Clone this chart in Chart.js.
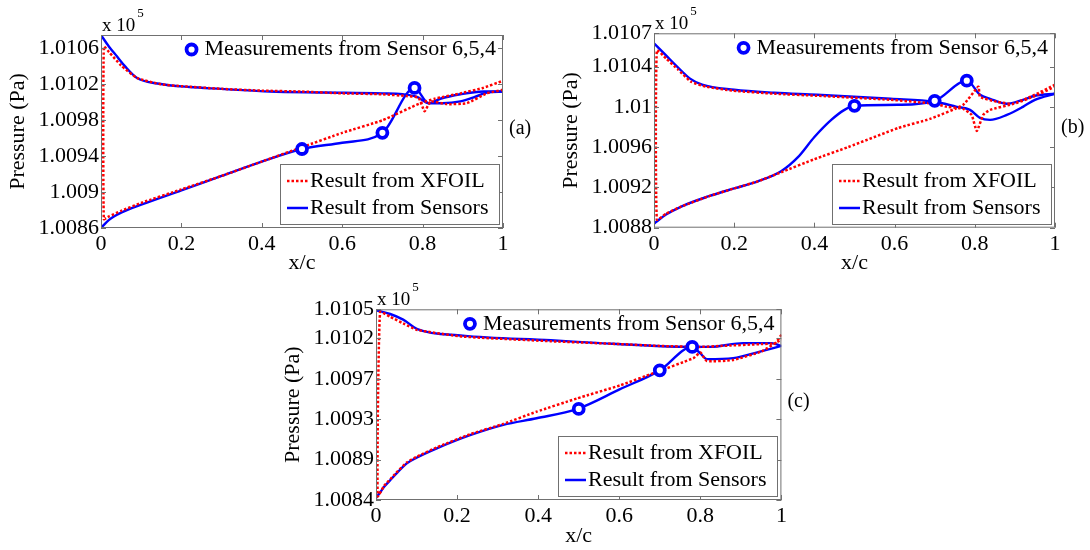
<!DOCTYPE html>
<html>
<head>
<meta charset="utf-8">
<script src="https://cdn.jsdelivr.net/npm/chart.js@4.4.1/dist/chart.umd.min.js"></script>
<style>
body{margin:0;background:#fff;width:1090px;height:550px;overflow:hidden;position:relative}
canvas{position:absolute}
</style>
</head>
<body>
<canvas id="chartA" style="left:0;top:0" width="545" height="285"></canvas>
<canvas id="chartB" style="left:545px;top:0" width="545" height="285"></canvas>
<canvas id="chartC" style="left:270px;top:270px" width="550" height="285"></canvas>
<script>
// x/c of sensors 6,5,4
const sensorX = [0.5, 0.7, 0.78];

// ---- panel (a) ----  values in x 10^5 Pa
const yTicksA = [1.0086, 1.009, 1.0094, 1.0098, 1.0102, 1.0106];
const measA = [1.00948, 1.00966, 1.01016];
const xfoilUpperA = [[0.007,1.01062],[0.02,1.01056],[0.05,1.01041],[0.09,1.01027],[0.15,1.0102],[0.2,1.01018],[0.3,1.01015],[0.4,1.01013],[0.5,1.01012],[0.6,1.0101],[0.7,1.01009],[0.76,1.01007],[0.79,1.01005],[0.805,1.0099],[0.82,1.01001],[0.86,1.00998],[0.91,1.00999],[0.96,1.0101],[1,1.01014]];
const xfoilLowerA = [[0.007,1.0087],[0.02,1.00873],[0.05,1.00879],[0.1,1.00888],[0.2,1.00903],[0.3,1.00918],[0.4,1.00934],[0.5,1.0095],[0.6,1.00966],[0.7,1.0098],[0.794,1.00999],[0.83,1.01004],[0.894,1.0101],[0.95,1.01016],[1,1.01024]];
const sensorUpperA = [[0,1.01075],[0.02,1.01062],[0.04,1.01051],[0.06,1.0104],[0.09,1.01027],[0.14,1.01021],[0.22,1.01017],[0.3,1.01015],[0.42,1.01012],[0.55,1.01011],[0.7,1.0101],[0.75,1.01009],[0.786,1.01006],[0.815,1.00999],[0.844,1.01004],[0.894,1.01009],[0.952,1.01012],[1,1.01012]];
const sensorLowerA = [[0,1.0086],[0.02,1.00869],[0.05,1.00877],[0.1,1.00886],[0.2,1.00902],[0.3,1.00918],[0.4,1.00934],[0.5,1.00948],[0.6,1.00955],[0.7,1.00966],[0.78,1.01016],[0.815,1.00999],[0.85,1.00999],[0.894,1.01001],[0.93,1.01006],[0.96,1.01011],[1,1.01012]];

// ---- panel (b) ----
const yTicksB = [1.0088, 1.0092, 1.0096, 1.01, 1.0104, 1.01073];
const measB = [1.01001, 1.01006, 1.01026];
const xfoilUpperB = [[0.007,1.01056],[0.03,1.01048],[0.06,1.01037],[0.092,1.01025],[0.13,1.0102],[0.197,1.01016],[0.3,1.01013],[0.407,1.01011],[0.59,1.01007],[0.7,1.01003],[0.73,1.0100],[0.771,1.00998],[0.792,1.00992],[0.805,1.00976],[0.821,1.00992],[0.838,1.00997],[0.896,1.01003],[0.95,1.01012],[1,1.01022]];
const xfoilLowerB = [[0.007,1.00888],[0.03,1.00894],[0.068,1.00901],[0.135,1.00911],[0.2,1.00919],[0.259,1.00926],[0.317,1.00935],[0.4,1.00948],[0.484,1.0096],[0.609,1.00979],[0.688,1.00988],[0.771,1.01002],[0.809,1.0102],[0.813,1.0101],[0.855,1.01005],[0.896,1.01003],[0.945,1.0101],[1,1.0102]];
const sensorUpperB = [[0,1.01063],[0.03,1.01051],[0.06,1.01039],[0.09,1.01028],[0.12,1.01022],[0.2,1.01017],[0.3,1.01014],[0.407,1.01012],[0.59,1.01008],[0.7,1.01005],[0.755,1.0100],[0.788,1.00997],[0.813,1.00989],[0.838,1.00987],[0.88,1.00992],[0.92,1.0100],[0.95,1.01007],[1,1.01013]];
const sensorLowerB = [[0,1.00884],[0.03,1.00893],[0.068,1.00901],[0.135,1.00911],[0.2,1.00919],[0.259,1.00926],[0.317,1.00936],[0.359,1.0095],[0.4,1.0097],[0.442,1.00987],[0.475,1.00997],[0.5,1.01001],[0.608,1.01002],[0.7,1.01006],[0.78,1.01026],[0.813,1.01012],[0.838,1.01008],[0.88,1.01003],[0.92,1.01007],[0.95,1.01011],[1,1.01013]];

// ---- panel (c) ----
const yTicksC = [1.00844, 1.00887, 1.0093, 1.00973, 1.01016, 1.01047];
const measC = [1.00941, 1.00982, 1.01007];
const xfoilUpperC = [[0.01,1.01044],[0.035,1.01039],[0.067,1.01032],[0.102,1.01025],[0.214,1.01018],[0.431,1.01013],[0.6,1.0101],[0.7,1.01008],[0.8,1.01007],[0.85,1.01008],[0.95,1.0101],[0.985,1.01011],[1,1.0102]];
const xfoilLowerC = [[0.004,1.00848],[0.02,1.00859],[0.035,1.00866],[0.05,1.00873],[0.076,1.00884],[0.1,1.0089],[0.15,1.009],[0.232,1.00914],[0.314,1.00925],[0.396,1.00938],[0.495,1.00952],[0.602,1.00966],[0.684,1.00979],[0.783,1.00995],[0.8,1.01001],[0.816,1.00992],[0.88,1.00993],[0.95,1.01002],[1,1.01015]];
const sensorUpperC = [[0,1.01046],[0.035,1.01042],[0.067,1.01036],[0.102,1.01026],[0.214,1.01019],[0.431,1.01014],[0.553,1.01011],[0.69,1.01008],[0.78,1.01007],[0.824,1.01007],[0.906,1.01011],[0.976,1.01011],[1,1.01008]];
const sensorLowerC = [[0,1.00846],[0.01,1.00852],[0.02,1.00858],[0.035,1.00865],[0.05,1.00872],[0.076,1.00883],[0.1,1.00889],[0.15,1.00899],[0.232,1.00913],[0.314,1.00924],[0.396,1.00931],[0.497,1.00941],[0.602,1.00962],[0.7,1.00982],[0.78,1.01007],[0.8,1.01],[0.816,1.00994],[0.881,1.00995],[0.947,1.01002],[1,1.01008]];

const SERIF = "'Liberation Serif', 'Times New Roman', serif";
const RED = '#ff0000';
const BLUE = '#0000ff';
const BOX = '#707070';

Chart.defaults.font.family = SERIF;
Chart.defaults.color = '#000';

function fmt(v, d){
    return String(Number(v.toFixed(d)));
}

function pts(arr){
    return arr.map(p => ({x: p[0], y: p[1]}));
}

function ring(ctx, x, y){
    ctx.beginPath();
    ctx.arc(x, y, 5, 0, Math.PI * 2);
    ctx.fillStyle = '#fff';
    ctx.fill();
    ctx.lineWidth = 3.8;
    ctx.strokeStyle = BLUE;
    ctx.stroke();
}

// axes box, inward ticks, exponent, panel label and the two legends
const decorPlugin = {
    id: 'decor',
    afterDatasetsDraw(chart, args, opts){
        const ctx = chart.ctx;
        const a = chart.chartArea;
        const sx = chart.scales.x, sy = chart.scales.y;
        ctx.save();

        ctx.strokeStyle = BOX;
        ctx.lineWidth = 1;
        ctx.strokeRect(a.left + 0.5, a.top + 0.5, a.right - a.left - 1, a.bottom - a.top - 1);
        ctx.beginPath();
        sx.ticks.forEach(t => {
            let x = Math.round(sx.getPixelForValue(t.value)) + 0.5;
            ctx.moveTo(x, a.bottom); ctx.lineTo(x, a.bottom - 5);
            ctx.moveTo(x, a.top); ctx.lineTo(x, a.top + 5);
        });
        sy.ticks.forEach(t => {
            let y = Math.round(sy.getPixelForValue(t.value)) + 0.5;
            ctx.moveTo(a.left, y); ctx.lineTo(a.left + 5, y);
            ctx.moveTo(a.right, y); ctx.lineTo(a.right - 5, y);
        });
        ctx.stroke();

        // x 10^5
        ctx.fillStyle = '#000';
        ctx.textBaseline = 'alphabetic';
        ctx.textAlign = 'left';
        ctx.font = '19px ' + SERIF;
        ctx.fillText('x 10', a.left + 1, a.top - 4);
        let w = ctx.measureText('x 10').width;
        ctx.font = '13px ' + SERIF;
        ctx.fillText('5', a.left + 3 + w, a.top - 18);

        // panel label
        ctx.font = '20px ' + SERIF;
        ctx.textBaseline = 'middle';
        ctx.fillText(opts.label, a.right + 6, (a.top + a.bottom) / 2 - 3);

        // sensor legend (top right)
        ctx.font = '22px ' + SERIF;
        ctx.textAlign = 'right';
        let mText = 'Measurements from Sensor 6,5,4';
        let my = a.top + 14.5;
        ctx.fillText(mText, a.right - 7, my);
        let mw = ctx.measureText(mText).width;
        ring(ctx, a.right - 7 - mw - 13, my);

        // line legend (bottom right)
        let bw = 219, bh = 60;
        let bx = Math.round(a.right - 4 - bw), by = Math.round(a.bottom - 4 - bh);
        ctx.fillStyle = '#fff';
        ctx.fillRect(bx, by, bw, bh);
        ctx.lineWidth = 1;
        ctx.strokeStyle = BOX;
        ctx.strokeRect(bx + 0.5, by + 0.5, bw, bh);

        ctx.lineWidth = 2.5;
        ctx.strokeStyle = RED;
        ctx.setLineDash([2.5, 2]);
        ctx.beginPath();
        ctx.moveTo(bx + 7, by + 17); ctx.lineTo(bx + 28, by + 17);
        ctx.stroke();
        ctx.setLineDash([]);
        ctx.strokeStyle = BLUE;
        ctx.beginPath();
        ctx.moveTo(bx + 7, by + 44); ctx.lineTo(bx + 28, by + 44);
        ctx.stroke();

        ctx.fillStyle = '#000';
        ctx.textAlign = 'left';
        ctx.font = '22px ' + SERIF;
        ctx.fillText('Result from XFOIL', bx + 30, by + 17);
        ctx.fillText('Result from Sensors', bx + 30, by + 44);

        ctx.restore();
    }
};

function makeChart(id, p){
    return new Chart(document.getElementById(id), {
        type: 'scatter',
        data: {
            datasets: [
                {
                    data: pts(p.xfoilUpper.slice().reverse().concat(p.xfoilLower)),
                    showLine: true, borderColor: RED, borderWidth: 2.5,
                    borderDash: [2.5, 2], pointRadius: 0, tension: 0.15, order: 1
                },
                {
                    data: pts(p.sensorUpper),
                    showLine: true, borderColor: BLUE, borderWidth: 2.4, pointRadius: 0,
                    cubicInterpolationMode: 'monotone', order: 2
                },
                {
                    data: pts(p.sensorLower),
                    showLine: true, borderColor: BLUE, borderWidth: 2.4, pointRadius: 0,
                    cubicInterpolationMode: 'monotone', order: 2
                },
                {
                    data: sensorX.map((x, i) => ({x: x, y: p.meas[i]})),
                    showLine: false, pointRadius: 5, borderWidth: 3.8,
                    borderColor: BLUE, backgroundColor: '#fff', order: 0
                }
            ]
        },
        options: {
            responsive: false,
            animation: false,
            layout: {padding: {left: 0, right: p.padR, top: p.padT, bottom: 0}},
            scales: {
                x: {
                    type: 'linear', min: 0, max: 1,
                    afterFit: s => { s.height = p.xH; },
                    grid: {display: false, drawTicks: false},
                    border: {display: false},
                    ticks: {stepSize: 0.2, padding: 3, maxRotation: 0, font: {size: 22}, callback: v => fmt(v, 1)},
                    title: {display: true, text: 'x/c', font: {size: 22}, padding: {top: 0, bottom: p.xTitlePad}}
                },
                y: {
                    type: 'linear', min: p.yTicks[0], max: p.yMax,
                    afterFit: s => { s.width = p.yW; },
                    afterBuildTicks: s => { s.ticks = p.yTicks.map(v => ({value: v})); },
                    grid: {display: false, drawTicks: false},
                    border: {display: false},
                    ticks: {padding: 2, autoSkip: false, font: {size: 22}, callback: v => fmt(v, 4)},
                    title: {display: true, text: 'Pressure (Pa)', font: {size: 22}, padding: {top: p.yTitlePad, bottom: 0}}
                }
            },
            plugins: {
                legend: {display: false},
                tooltip: {enabled: false},
                decor: {label: p.label}
            }
        },
        plugins: [decorPlugin]
    });
}

makeChart('chartA', {
    label: '(a)', yTicks: yTicksA, yMax: 1.01075, meas: measA,
    xfoilUpper: xfoilUpperA, xfoilLower: xfoilLowerA,
    sensorUpper: sensorUpperA, sensorLower: sensorLowerA,
    yW: 101, xH: 57, padR: 42, padT: 35, xTitlePad: 8.8, yTitlePad: 5
});

makeChart('chartB', {
    label: '(b)', yTicks: yTicksB, yMax: 1.01073, meas: measB,
    xfoilUpper: xfoilUpperB, xfoilLower: xfoilLowerB,
    sensorUpper: sensorUpperB, sensorLower: sensorLowerB,
    yW: 109, xH: 57.3, padR: 35, padT: 33.3, xTitlePad: 8.8, yTitlePad: 13.4
});

makeChart('chartC', {
    label: '(c)', yTicks: yTicksC, yMax: 1.01047, meas: measC,
    xfoilUpper: xfoilUpperC, xfoilLower: xfoilLowerC,
    sensorUpper: sensorUpperC, sensorLower: sensorLowerC,
    yW: 106, xH: 55, padR: 38.6, padT: 39.3, xTitlePad: 5.1, yTitlePad: 9.6
});
</script>
</body>
</html>
